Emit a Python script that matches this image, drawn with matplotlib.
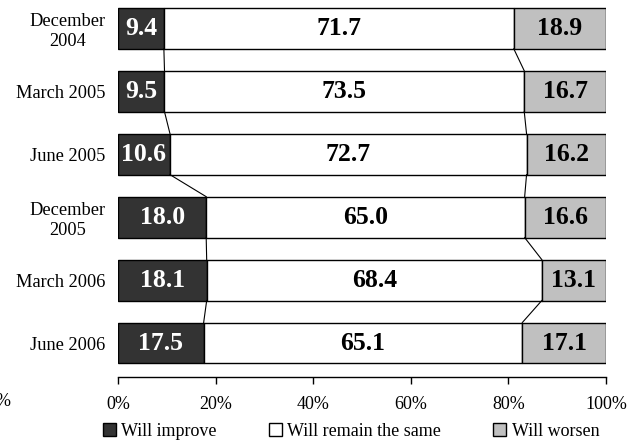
import numpy as np
import matplotlib.pyplot as plt

plt.rcParams['font.family'] = ['Liberation Serif', 'DejaVu Serif']

# survey periods and shares of answers (%)
periods = ['December\n2004', 'March 2005', 'June 2005', 'December\n2005', 'March 2006', 'June 2006']
improve = [9.4, 9.5, 10.6, 18.0, 18.1, 17.5]
same = [71.7, 73.5, 72.7, 65.0, 68.4, 65.1]
worsen = [18.9, 16.7, 16.2, 16.6, 13.1, 17.1]
series_names = ['Will improve', 'Will remain the same', 'Will worsen']
colors = ['#333333', '#ffffff', '#c0c0c0']
text_colors = ['white', 'black', 'black']

data = np.array([improve, same, worsen])
shares = data / data.sum(axis=0)  # 100% stacked

fig = plt.figure(figsize=(6.34, 4.43), dpi=100)
ax = fig.add_axes([118 / 634, 1 - 377 / 443, 488 / 634, 377 / 443])

y = np.arange(len(periods))
h = 0.65
left = np.zeros(len(periods))
for k in range(3):
    ax.barh(y, shares[k], height=h, left=left, color=colors[k],
            edgecolor='black', linewidth=1.0, label=series_names[k])
    for i in range(len(periods)):
        ax.text(left[i] + shares[k][i] / 2, y[i], '%.1f' % data[k][i],
                ha='center', va='center', fontsize=18.5, fontweight='bold',
                color=text_colors[k])
    left = left + shares[k]

# series lines between neighbouring bars
cum = np.cumsum(shares, axis=0)
for k in range(2):
    for i in range(len(periods) - 1):
        ax.plot([cum[k][i], cum[k][i + 1]], [y[i] + h / 2, y[i + 1] - h / 2],
                color='black', linewidth=0.8)

ax.set_xlim(0, 1)
ax.set_ylim(5.54, -0.45)
ax.set_yticks(y)
ax.set_yticklabels(periods, fontsize=13.2, multialignment='center')
ax.tick_params(axis='y', length=0, pad=9)
ax.set_xticks(np.linspace(0, 1, 6))
ax.set_xticklabels(['0%', '20%', '40%', '60%', '80%', '100%'], fontsize=13)
ax.tick_params(axis='x', direction='out', length=5, width=1, pad=9)
for s in ['top', 'right', 'left']:
    ax.spines[s].set_visible(False)
ax.spines['bottom'].set_linewidth(1)

fig.text(10 / 634, 1 - 402 / 443, '%', ha='right', va='center', fontsize=13)

handles, labels = ax.get_legend_handles_labels()
fig.legend(handles, labels, loc='center', bbox_to_anchor=(0.554, 1 - 431 / 443),
           ncol=3, frameon=False, fontsize=13, handlelength=0.7, handleheight=0.7,
           handletextpad=0.3, columnspacing=2.9)

fig.savefig('out.png', dpi=100)
